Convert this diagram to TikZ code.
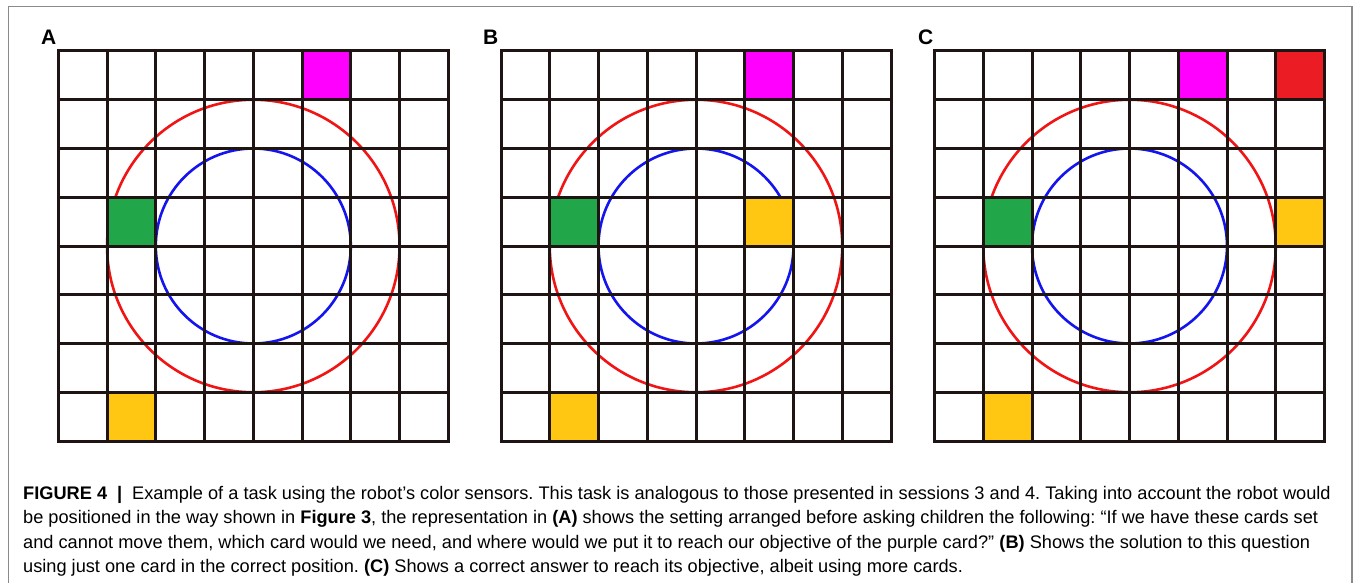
\documentclass[tikz,border=0pt]{standalone}
\usepackage{fontspec}
\setmainfont{Liberation Sans}
\definecolor{bordergray}{HTML}{8A8A8A}
\definecolor{gridc}{HTML}{1E1414}
\definecolor{magc}{HTML}{FF00FF}
\definecolor{greenc}{HTML}{22A64A}
\definecolor{yellowc}{HTML}{FFC711}
\definecolor{redsq}{HTML}{EC1C24}
\definecolor{redc}{HTML}{F01414}
\definecolor{bluec}{HTML}{1414EE}
\newcommand{\cs}{48.75}
\tikzset{
  gridline/.style={draw=gridc,line width=3pt,line cap=rect},
  circline/.style={line width=2.6pt},
  panellabel/.style={anchor=base west,inner sep=0pt,font=\bfseries\fontsize{21}{21}\selectfont},
  capline/.style={anchor=base west,inner sep=0pt,font=\frenchspacing\fontsize{18.2}{18.2}\selectfont},
}
\newcommand{\gridpanel}[2]{%
  \begin{scope}[shift={(#1,51)}]
    \draw[redc,circline] (4*\cs,4*\cs) circle[radius=146.25pt];
    \draw[bluec,circline] (4*\cs,4*\cs) circle[radius=97.5pt];
    \fill[magc] (5*\cs,0) rectangle ++(\cs,\cs);
    \fill[greenc] (\cs,3*\cs) rectangle ++(\cs,\cs);
    \fill[yellowc] (\cs,7*\cs) rectangle ++(\cs,\cs);
    #2
    \foreach \i in {0,...,8} {
      \draw[gridline] (\i*\cs,0) -- (\i*\cs,8*\cs);
      \draw[gridline] (0,\i*\cs) -- (8*\cs,\i*\cs);
    }
  \end{scope}}
\begin{document}
\begin{tikzpicture}[x=1pt,y=-1pt]
\useasboundingbox (0,0) rectangle (1356,583);
\fill[white] (0,0) rectangle (1356,583);
\draw[bordergray,line width=1.4pt] (8.3,583) -- (8.3,6.7) -- (1352,6.7) -- (1352,583);

\gridpanel{58.3}{}
\gridpanel{501}{\fill[yellowc] (5*\cs,3*\cs) rectangle ++(\cs,\cs);}
\gridpanel{934.5}{\fill[redsq] (7*\cs,0) rectangle ++(\cs,\cs);
  \fill[yellowc] (7*\cs,3*\cs) rectangle ++(\cs,\cs);}

\node[panellabel] (labA) at (41,45) {A};
\node[panellabel] (labB) at (483,45) {B};
\node[panellabel] (labC) at (918,45) {C};

\node[capline] (cap1) at (23,499) {\textbf{FIGURE 4}\hspace{0.55em}\textbf{|}\hspace{0.55em}Example of a task using the robot’s color sensors. This task is analogous to those presented in sessions 3 and 4. Taking into account the robot would};
\node[capline] (cap2) at (23,523.5) {be positioned in the way shown in \textbf{Figure 3}, the representation in \textbf{(A)} shows the setting arranged before asking children the following: “If we have these cards set};
\node[capline] (cap3) at (23,548) {and cannot move them, which card would we need, and where would we put it to reach our objective of the purple card?” \textbf{(B)} Shows the solution to this question};
\node[capline] (cap4) at (23,572.5) {using just one card in the correct position. \textbf{(C)} Shows a correct answer to reach its objective, albeit using more cards.};
\end{tikzpicture}
\end{document}
